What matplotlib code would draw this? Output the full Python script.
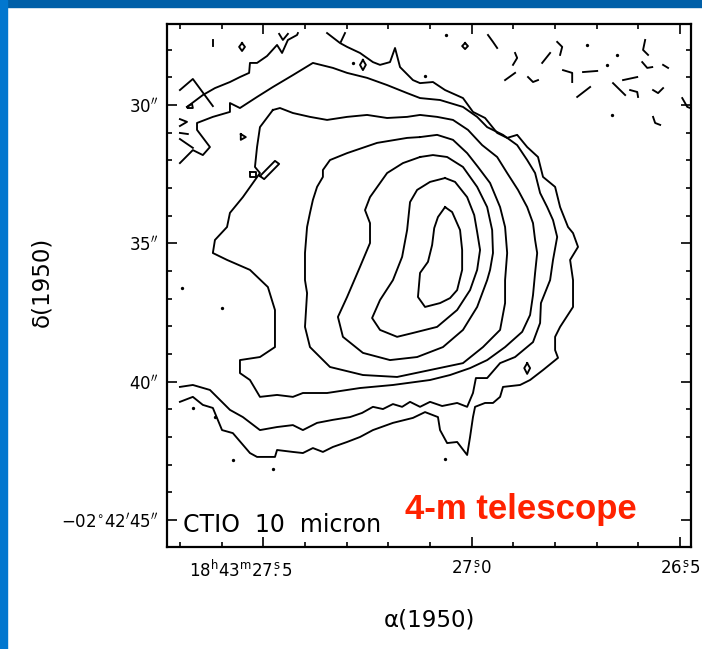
import numpy as np
import matplotlib.pyplot as plt
from matplotlib.patches import Rectangle
from matplotlib.ticker import MultipleLocator
from matplotlib.transforms import ScaledTranslation

# contour traces: RA in seconds (18h43m..), Dec in arcsec (-02d42m..)
c7_ra = [27.064, 27.047, 27.028, 27.023, 27.023, 27.035, 27.052, 27.076, 27.112, 27.129, 27.124, 27.105, 27.095, 27.090, 27.081, 27.064]
c7_dec = [33.69, 33.87, 34.52, 35.24, 35.96, 36.69, 36.98, 37.16, 37.30, 36.94, 36.07, 35.67, 35.06, 34.45, 34.05, 33.69]

c6_ra = [27.064, 27.040, 27.011, 26.994, 26.987, 26.980, 26.987, 27.004, 27.035, 27.083, 27.141, 27.179, 27.220, 27.239, 27.220, 27.189, 27.167, 27.155, 27.148, 27.131, 27.100, 27.064]
c6_dec = [32.64, 32.78, 33.33, 33.98, 34.59, 35.24, 35.96, 36.69, 37.41, 38.02, 38.24, 38.38, 38.13, 37.70, 37.05, 36.33, 35.49, 34.52, 33.51, 33.07, 32.78, 32.64]

c5_ra = [27.124, 27.093, 27.059, 27.021, 26.987, 26.963, 26.951, 26.949, 26.956, 26.963, 26.987, 27.021, 27.069, 27.131, 27.196, 27.261, 27.309, 27.321, 27.299, 27.268, 27.244, 27.244, 27.256, 27.244, 27.203, 27.165, 27.124]
c5_dec = [31.88, 31.81, 31.88, 32.24, 32.96, 33.69, 34.52, 35.35, 35.96, 36.33, 37.30, 38.13, 38.75, 39.11, 39.22, 38.96, 38.38, 37.66, 36.94, 35.85, 34.99, 34.27, 33.80, 33.33, 32.46, 32.10, 31.88]

c4_ra = [27.124, 27.083, 27.045, 27.011, 26.985, 26.956, 26.932, 26.920, 26.915, 26.920, 26.920, 26.932, 26.973, 27.021, 27.100, 27.179, 27.261,
         27.340, 27.388, 27.400, 27.395, 27.400, 27.400, 27.395, 27.388, 27.381, 27.371, 27.357, 27.357, 27.340, 27.299, 27.227, 27.155, 27.124]
c4_dec = [31.16, 31.08, 31.26, 31.74, 32.24, 32.82, 33.69, 34.41, 35.35, 36.33, 37.16, 38.13, 38.75, 39.33, 39.58, 39.83, 39.76,
          39.47, 38.75, 38.02, 36.80, 36.33, 35.35, 34.41, 33.90, 33.43, 32.96, 32.60, 32.35, 31.99, 31.74, 31.37, 31.19, 31.16]

c3_ra = [27.477, 27.460, 27.429, 27.388, 27.347, 27.299, 27.251, 27.203, 27.155, 27.124,
         27.083, 27.045, 27.009, 26.975, 26.939, 26.915, 26.889, 26.867, 26.853, 26.848,
         26.843, 26.848, 26.853, 26.860, 26.879, 26.920, 26.963, 27.004, 27.052, 27.100,
         27.189, 27.268, 27.347, 27.405, 27.429, 27.467, 27.508, 27.532, 27.556, 27.556,
         27.508, 27.472, 27.472, 27.489, 27.532, 27.587, 27.621, 27.616, 27.587, 27.580,
         27.549, 27.508, 27.520, 27.515, 27.508, 27.477]
c3_dec = [30.18, 30.11, 30.29, 30.43, 30.54, 30.43, 30.36, 30.47, 30.43, 30.36,
          30.43, 30.54, 30.90, 31.45, 31.88, 32.46, 33.07, 33.69, 34.27, 34.88,
          35.35, 36.07, 36.87, 37.59, 38.20, 38.75, 39.22, 39.51, 39.76, 39.94,
          40.12, 40.23, 40.41, 40.41, 40.55, 40.48, 40.55, 39.94, 39.69, 39.22,
          39.11, 38.75, 37.41, 36.58, 35.96, 35.60, 35.35, 34.88, 34.41, 33.90,
          33.33, 32.46, 32.24, 31.52, 30.80, 30.18]

c2_ra = [27.700, 27.669, 27.628, 27.604, 27.580, 27.549, 27.508, 27.467, 27.429, 27.405,
         27.371, 27.333, 27.292, 27.263, 27.237, 27.213, 27.189, 27.167, 27.148, 27.124,
         27.100, 27.071, 27.035, 27.011, 26.997, 26.990, 26.963, 26.932, 26.896, 26.853,
         26.836, 26.834, 26.812, 26.805, 26.795, 26.805, 26.819, 26.836, 26.848, 26.867,
         26.891, 26.925, 26.963, 26.987, 27.021, 27.076, 27.124, 27.155, 27.203, 27.251,
         27.299, 27.333, 27.381, 27.429, 27.477, 27.515, 27.556, 27.580, 27.580, 27.621,
         27.659, 27.659, 27.628, 27.645, 27.669, 27.700]
c2_dec = [40.19, 40.12, 40.30, 40.66, 41.02, 41.28, 41.75, 41.64, 41.57, 41.75,
          41.49, 41.38, 41.28, 41.13, 40.91, 40.99, 40.81, 40.91, 40.73, 40.91,
          40.73, 40.88, 40.77, 40.91, 40.41, 39.87, 39.87, 39.33, 39.11, 38.57,
          37.88, 37.16, 36.33, 35.60, 34.77, 34.16, 33.69, 33.18, 32.46, 31.99,
          31.45, 31.08, 30.80, 30.43, 30.07, 29.82, 29.75, 29.57, 29.28, 29.02,
          28.84, 28.66, 28.48, 28.92, 29.35, 29.71, 30.11, 29.93, 30.25, 30.43,
          30.65, 30.90, 31.52, 31.81, 31.63, 32.10]

c1a_ra = [27.700, 27.669, 27.645, 27.621, 27.599, 27.573, 27.532, 27.515, 27.472, 27.467,
          27.429, 27.405, 27.381, 27.357, 27.333, 27.299, 27.268, 27.237, 27.189, 27.141,
          27.112, 27.081, 27.076, 27.059, 27.035, 27.011, 27.004, 26.997, 26.992, 26.968,
          26.949, 26.932, 26.925, 26.884, 26.860, 26.829, 26.793, 26.800, 26.800, 26.788,
          26.757, 26.757, 26.764, 26.745, 26.757, 26.769, 26.788, 26.800, 26.829, 26.841,
          26.867, 26.891, 26.915, 26.939, 26.968, 26.997, 27.021, 27.064, 27.093, 27.124,
          27.141, 27.172, 27.184, 27.196, 27.220, 27.237, 27.268, 27.299, 27.316, 27.347]
c1a_dec = [40.73, 40.55, 40.84, 40.95, 41.75, 41.86, 42.58, 42.72, 42.72, 42.47,
           42.54, 42.58, 42.40, 42.54, 42.36, 42.18, 42.00, 41.75, 41.49, 41.31,
           41.10, 41.28, 41.75, 42.22, 42.18, 42.65, 42.00, 41.28, 40.91, 40.77,
           40.77, 40.55, 40.19, 40.12, 39.94, 39.58, 39.14, 38.86, 38.38, 38.02,
           37.30, 36.33, 35.60, 35.13, 34.63, 34.41, 33.69, 32.96, 32.60, 31.88,
           31.52, 31.08, 31.19, 31.01, 30.47, 30.25, 29.75, 29.46, 29.17, 29.21,
           29.10, 28.63, 27.94, 28.45, 28.55, 28.45, 28.12, 27.90, 27.76, 27.40]

c1b_ra = [27.417, 27.419, 27.441, 27.455, 27.467, 27.491, 27.515, 27.532, 27.534, 27.556, 27.580, 27.616, 27.645, 27.683]
c1b_dec = [27.40, 27.47, 27.65, 28.12, 27.83, 28.23, 28.48, 28.48, 28.84, 28.99, 29.17, 29.39, 29.64, 30.07]

# short broken pieces of the lowest level and noise blobs
fragments = [
    ([27.700, 27.669, 27.621], [29.46, 29.06, 30.04]),
    ([27.683, 27.671, 27.669, 27.681], [30.07, 29.96, 30.11, 30.11]),
    ([27.621, 27.621], [27.65, 27.87]),
    ([27.551, 27.544, 27.551, 27.558, 27.551], [27.76, 27.90, 28.05, 27.90, 27.76]),
    ([27.462, 27.453, 27.441], [27.43, 27.65, 27.43]),
    ([27.304, 27.314], [27.40, 27.72]),
    ([27.261, 27.254, 27.261, 27.268, 27.261], [28.37, 28.55, 28.74, 28.55, 28.37]),
    ([27.016, 27.009, 27.016, 27.023, 27.016], [27.76, 27.87, 27.98, 27.87, 27.76]),
    ([26.961, 26.949, 26.939], [27.47, 27.72, 27.94]),
    ([26.896, 26.891, 26.901], [28.12, 28.30, 28.55]),
    ([26.920, 26.896], [29.10, 28.84]),
    ([26.865, 26.853, 26.841], [28.99, 29.17, 29.10]),
    ([26.831, 26.812], [28.48, 28.12]),
    ([26.795, 26.783, 26.788], [27.72, 27.90, 28.19]),
    ([26.781, 26.759, 26.759], [28.74, 28.84, 29.17]),
    ([26.733, 26.699], [28.81, 28.77]),
    ([26.747, 26.716], [29.71, 29.35]),
    ([26.661, 26.632], [29.21, 29.64]),
    ([26.637, 26.603], [29.10, 28.99]),
    ([26.620, 26.603, 26.601], [29.46, 29.53, 29.71]),
    ([26.584, 26.589, 26.577], [27.65, 28.01, 28.19]),
    ([26.591, 26.579, 26.567], [28.45, 28.66, 28.63]),
    ([26.541, 26.529], [28.55, 28.66]),
    ([26.565, 26.553, 26.541], [29.46, 29.57, 29.39]),
    ([26.565, 26.560, 26.548], [30.43, 30.65, 30.72]),
    ([26.495, 26.483, 26.476], [29.75, 30.07, 30.11]),
    ([27.700, 27.683, 27.700], [30.51, 30.61, 30.76]),
    ([27.700, 27.681], [31.01, 31.05]),
    ([27.700, 27.669], [31.23, 31.55]),
    ([27.554, 27.542, 27.554, 27.554], [31.05, 31.16, 31.26, 31.05]),
    ([27.508, 27.472, 27.462, 27.498, 27.508], [32.57, 32.02, 32.13, 32.68, 32.57]),
    ([27.532, 27.518, 27.518, 27.532, 27.532], [32.42, 32.42, 32.60, 32.60, 32.42]),
    ([26.867, 26.860, 26.867, 26.874, 26.867], [39.33, 39.51, 39.72, 39.51, 39.33]),
]

dot_ra = [27.285, 27.112, 27.062, 26.723, 26.675, 26.651, 26.663, 27.695, 27.599, 27.573, 27.669, 27.616, 27.477, 27.064]
dot_dec = [28.48, 28.95, 27.47, 27.83, 28.55, 28.19, 30.36, 36.61, 37.34, 42.83, 40.95, 41.28, 43.16, 42.79]

x_ticks = [27.5, 27.0, 26.5]
x_labels = [r'$18^{\rm h}43^{\rm m}27\overset{\rm s}{.}5$', r'$27\overset{\rm s}{.}0$', r'$26\overset{\rm s}{.}5$']
y_ticks = [30, 35, 40, 45]
y_labels = [r'$30^{\prime\prime}$', r'$35^{\prime\prime}$', r'$40^{\prime\prime}$',
            r'$-02^{\circ}42^{\prime}45^{\prime\prime}$']

fig = plt.figure(figsize=(7.02, 6.49), dpi=100)
fig.patch.set_facecolor('white')
# slide frame
fig.patches.append(Rectangle((0, 1 - 7 / 649), 1, 7 / 649, transform=fig.transFigure, color='#005fa8', zorder=0))
fig.patches.append(Rectangle((0, 0), 7 / 702, 1, transform=fig.transFigure, color='#0277cf', zorder=0))

ax = fig.add_axes([167 / 702, 102 / 649, 524 / 702, 523 / 649])

lw = 1.35
for ra, dec in [(c7_ra, c7_dec), (c6_ra, c6_dec), (c5_ra, c5_dec), (c4_ra, c4_dec),
                (c3_ra, c3_dec), (c2_ra, c2_dec), (c1a_ra, c1a_dec), (c1b_ra, c1b_dec)]:
    ax.plot(ra, dec, color='black', lw=lw)
for ra, dec in fragments:
    ax.plot(ra, dec, color='black', lw=lw)
ax.plot(dot_ra, dot_dec, 'o', color='black', ms=2.4, mew=0)

ax.set_xlim(27.731, 26.474)
ax.set_ylim(45.976, 27.073)

ax.set_xticks(x_ticks)
ax.set_xticklabels(x_labels, fontsize=12)
ax.xaxis.set_minor_locator(MultipleLocator(0.1))
ax.set_yticks(y_ticks)
ax.set_yticklabels(y_labels, fontsize=12)
ax.yaxis.set_minor_locator(MultipleLocator(1))
ax.tick_params(which='both', direction='in', top=True, right=True, width=1.2, color='black')
ax.tick_params(which='major', length=7)
ax.tick_params(which='minor', length=3.5)
ax.tick_params(axis='x', pad=9)
ax.tick_params(axis='y', pad=6)
for s in ax.spines.values():
    s.set_linewidth(1.6)

# first RA label sits to the left of its tick
first = ax.get_xticklabels()[0]
first.set_ha('right')
first.set_transform(first.get_transform() + ScaledTranslation(0.29, 0, fig.dpi_scale_trans))

ax.set_xlabel('α(1950)', fontsize=16.5)
ax.xaxis.label.set_va('center')
ax.xaxis.set_label_coords(0.5, -0.14)
ax.set_ylabel('δ(1950)', fontsize=16.5)
ax.yaxis.label.set_va('center')
ax.yaxis.set_label_coords(-0.2385, 0.507)

ax.text(0.0305, 0.0287, 'CTIO  10  micron', transform=ax.transAxes, fontsize=17, va='baseline', ha='left')
ax.text(0.4542, 0.0535, '4-m telescope', transform=ax.transAxes, fontsize=25, fontweight='bold',
        color='#ff2200', va='baseline', ha='left', family=['Liberation Sans', 'DejaVu Sans'])

fig.savefig('out.png', dpi=100)
